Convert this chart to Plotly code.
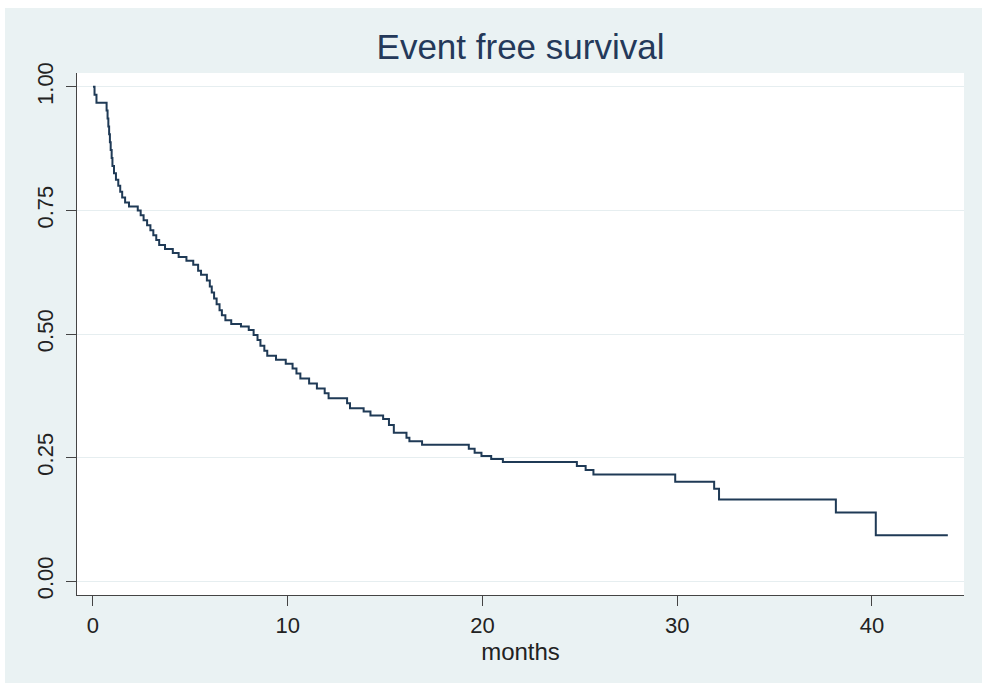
import plotly.graph_objects as go

# Kaplan-Meier step data (time in months, survival after step)
months = [0, 0.08, 0.18, 0.70, 0.75, 0.79, 0.83, 0.87, 0.91, 0.96, 1.00, 1.08, 1.18,
          1.30, 1.40, 1.50, 1.65, 1.85, 2.30, 2.45, 2.60, 2.78, 2.95, 3.10, 3.25,
          3.40, 3.70, 4.10, 4.40, 4.80, 5.15, 5.40, 5.55, 5.85, 6.00, 6.10, 6.22,
          6.35, 6.50, 6.62, 6.80, 7.10, 7.60, 8.00, 8.25, 8.45, 8.60, 8.80, 8.95,
          9.40, 9.90, 10.25, 10.45, 10.65, 11.10, 11.50, 11.90, 12.10, 13.05, 13.20,
          13.90, 14.25, 14.90, 15.20, 15.45, 16.10, 16.25, 16.90, 19.30, 19.60,
          19.95, 20.45, 21.05, 24.85, 25.30, 25.70, 29.90, 31.90, 32.15, 38.15,
          40.20, 43.90]
survival = [1.000, 0.984, 0.968, 0.952, 0.936, 0.920, 0.904, 0.888, 0.872, 0.856,
            0.840, 0.825, 0.812, 0.800, 0.788, 0.776, 0.766, 0.758, 0.750, 0.740,
            0.730, 0.720, 0.710, 0.700, 0.690, 0.680, 0.672, 0.664, 0.656, 0.648,
            0.640, 0.628, 0.620, 0.608, 0.596, 0.584, 0.572, 0.560, 0.548, 0.538,
            0.528, 0.520, 0.515, 0.508, 0.498, 0.488, 0.476, 0.466, 0.456, 0.448,
            0.440, 0.430, 0.420, 0.410, 0.400, 0.390, 0.380, 0.370, 0.360, 0.350,
            0.343, 0.335, 0.328, 0.316, 0.300, 0.290, 0.283, 0.276, 0.268, 0.260,
            0.253, 0.247, 0.241, 0.233, 0.225, 0.216, 0.201, 0.187, 0.165, 0.139,
            0.093, 0.093]

x_ticks = [0, 10, 20, 30, 40]
y_ticks = [0.00, 0.25, 0.50, 0.75, 1.00]
y_tick_labels = ["0.00", "0.25", "0.50", "0.75", "1.00"]

W, H = 982, 683
L, R, T, B = 77, 18, 73, 88
pw, ph = W - L - R, H - T - B

def px_x(p):
    return (p - L) / pw

def px_y(p):
    return 1 - (p - T) / ph

fig = go.Figure()
fig.add_trace(go.Scatter(
    x=months, y=survival, mode="lines", line_shape="hv",
    line=dict(color="#1f3a56", width=2), showlegend=False, hoverinfo="skip"))

bg = "#eaf2f3"
fig.update_layout(
    width=W, height=H,
    margin=dict(l=L, r=R, t=T, b=B),
    paper_bgcolor="white", plot_bgcolor="white",
    font=dict(family="Liberation Sans, Arial, sans-serif", color="#222222"),
    title=dict(text="Event free survival", x=0.5, xref="paper",
               y=1 - 47 / H, yref="container", yanchor="middle", xanchor="center",
               font=dict(size=35, color="#24395a")),
    shapes=[
        dict(type="rect", xref="paper", yref="paper", layer="below",
             x0=px_x(5), x1=px_x(982), y0=px_y(683), y1=px_y(8),
             fillcolor=bg, line=dict(width=0)),
        dict(type="rect", xref="paper", yref="paper", layer="below",
             x0=0, x1=1, y0=0, y1=1, fillcolor="white", line=dict(width=0)),
    ],
)
fig.update_xaxes(
    range=[-0.82, 44.73], tickvals=x_ticks, ticktext=[str(v) for v in x_ticks],
    showgrid=False, zeroline=False, showline=True, linecolor="#444444", linewidth=1.3,
    ticks="outside", ticklen=10, tickwidth=1.3, tickcolor="#444444",
    tickfont=dict(size=22, color="#222222"),
    title=dict(text="months", font=dict(size=24, color="#222222"), standoff=4))
fig.update_yaxes(
    range=[-0.028, 1.028], tickvals=y_ticks, ticktext=y_tick_labels, tickangle=-90,
    showgrid=True, gridcolor="#e6eef0", gridwidth=1.2, zeroline=False,
    showline=True, linecolor="#444444", linewidth=1.3,
    ticks="outside", ticklen=10, tickwidth=1.3, tickcolor="#444444",
    ticklabelstandoff=4,
    tickfont=dict(size=22, color="#222222"))

fig.write_html("out.html")
